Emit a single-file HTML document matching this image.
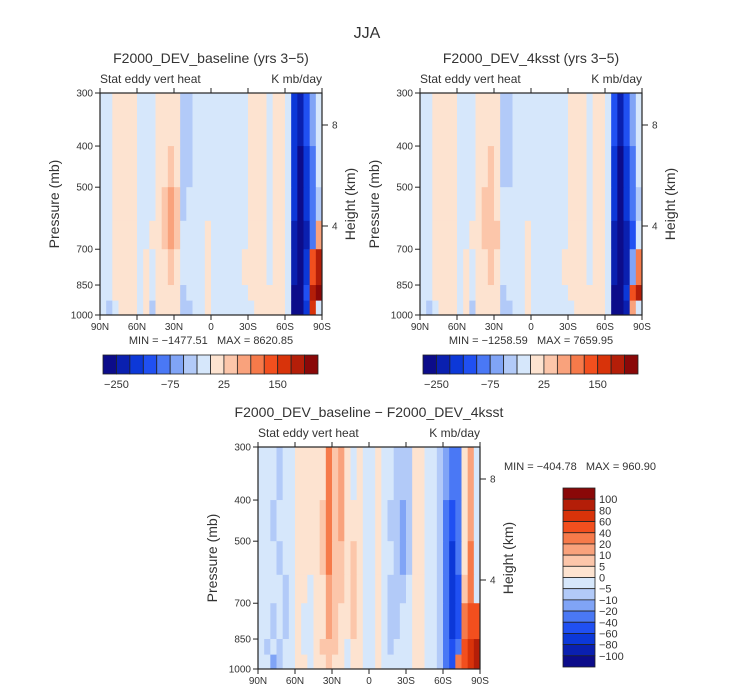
<!DOCTYPE html>
<html><head><meta charset="utf-8"><style>
html,body{margin:0;padding:0;background:#fff;}
svg{display:block;font-family:"Liberation Sans",sans-serif;}
text{white-space:pre;}
</style></head><body>
<svg id="fig" width="733" height="693" viewBox="0 0 733 693" xmlns="http://www.w3.org/2000/svg">
<text x="367" y="38" font-size="16" text-anchor="middle" fill="#333">JJA</text>
</svg>
<script>
// ---- data ----
const lats = [87.5,82.5,77.5,72.5,67.5,62.5,57.5,52.5,47.5,42.5,37.5,32.5,27.5,22.5,17.5,12.5,7.5,2.5,-2.5,-7.5,-12.5,-17.5,-22.5,-27.5,-32.5,-37.5,-42.5,-47.5,-52.5,-57.5,-62.5,-67.5,-72.5,-77.5,-82.5,-87.5];
const presEdges = [300,400,500,600,700,850,925,1000];
const xTickLabels = ["90N","60N","30N","0","30S","60S","90S"];
const xTickVals = [90,60,30,0,-30,-60,-90];
const pTickVals = [300,400,500,700,850,1000];
const hTickVals = [8,4];
const levelsAbs = [-250,-200,-150,-100,-75,-50,-25,0,25,50,75,100,150,200,250];
const levelsDiff = [-100,-80,-60,-40,-20,-10,-5,0,5,10,20,40,60,80,100];
const colors = ["#0c0c8a","#0a20b0","#0c38d8","#2050f2","#4a78f5","#80a4f6","#b2caf8","#d6e7fb","#fde3d0","#fcc6aa","#f9a27c","#f67a4a","#f24f1e","#d8330a","#b41e08","#8a0808"];
const grid1 = [
[-10,-10,10,10,10,5,-10,-10,-10,10,10,20,10,-30,-30,-10,-10,-10,-10,-10,-10,-10,-10,-10,10,10,10,-10,10,10,-10,-160,-220,-120,-60,-20],
[-10,-10,10,10,10,5,-10,-10,-10,10,20,30,20,-30,-30,-10,-10,-10,-10,-10,-10,-10,-10,-10,10,10,10,-10,10,10,-10,-180,-260,-160,-80,-20],
[-10,-10,10,10,10,5,-10,-10,-10,10,40,60,30,-30,-20,-10,-10,-10,-10,-10,-10,-10,-10,-10,10,10,10,-10,10,10,-10,-200,-300,-200,-90,-30],
[-10,-10,10,10,10,5,-10,-10,10,10,30,60,40,-10,-10,-10,-10,10,-10,-10,-10,-10,-10,-10,10,10,10,-10,10,10,-10,-220,-300,-220,-100,60],
[-10,-10,10,10,5,10,-10,10,-10,10,20,30,20,-10,-10,-10,-10,10,-10,-10,-10,-10,-10,10,10,10,10,-10,10,10,-10,-240,-300,-200,100,200],
[-10,-10,10,10,5,10,-10,10,-10,10,20,20,10,-30,-10,-10,-10,10,-10,-10,-10,-10,-10,-10,10,10,10,10,10,10,-10,-260,-300,-150,200,260],
[-10,-30,-10,10,5,10,-10,10,-30,10,10,10,10,-30,-30,-10,-10,10,-10,-10,-10,-10,-10,-10,-10,10,10,10,10,10,-10,-300,-300,-200,150,-20]
];
const grid2 = [
[-10,-10,10,10,10,5,-10,-10,-10,10,10,20,10,-30,-30,-10,-10,-10,-10,-10,-10,-10,-10,-10,10,10,10,-10,10,10,-10,-150,-220,-130,-60,-20],
[-10,-10,10,10,10,5,-10,-10,-10,10,20,30,10,-30,-30,-10,-10,-10,-10,-10,-10,-10,-10,-10,10,10,10,-10,10,10,-10,-180,-260,-170,-80,-20],
[-10,-10,10,10,10,5,-10,-10,-10,10,30,40,20,-20,-20,-10,-10,-10,-10,-10,-10,-10,-10,-10,10,10,10,-10,10,10,-10,-200,-300,-200,-90,-30],
[-10,-10,10,10,10,5,-10,-10,10,10,30,40,30,-10,-10,-10,-10,10,-10,-10,-10,-10,-10,-10,10,10,10,-10,10,10,-10,-220,-300,-220,-120,-20],
[-10,-10,10,10,5,10,-10,10,-10,10,20,30,20,-10,-10,-10,-10,10,-10,-10,-10,-10,-10,10,10,10,10,-10,10,10,-10,-240,-300,-220,-60,80],
[-10,-10,10,10,5,10,-10,10,-10,10,20,20,10,-30,-10,-10,-10,10,-10,-10,-10,-10,-10,-10,10,10,10,10,10,10,-10,-260,-300,-180,100,200],
[-10,-30,-10,10,5,10,-10,10,-30,10,10,10,10,-30,-30,-10,-10,10,-10,-10,-10,-10,-10,-10,-10,10,10,10,10,10,-10,-300,-300,-220,60,-20]
];
const grid3 = [
[-3,-3,-3,-8,-3,-3,3,3,3,3,3,25,8,15,3,-3,3,-3,-3,3,-3,-3,-8,-8,-8,3,3,-3,-3,-8,-15,-30,-25,3,15,-3],
[-3,-3,-8,-3,-3,-3,3,3,3,3,8,25,8,15,3,3,3,-3,-3,3,-3,-8,-8,-15,-8,3,3,-3,-3,-8,-25,-50,-30,3,15,-3],
[-3,-3,-3,-8,-3,-3,3,3,3,3,8,20,8,8,3,8,3,-3,-3,3,-3,-3,-8,-15,-8,3,3,-3,-3,-8,-25,-65,-40,3,20,-3],
[-3,-3,-3,-3,-8,-3,3,3,-3,3,3,15,8,8,3,8,3,-3,-3,3,-3,-8,-8,-8,-3,3,3,-3,-3,-8,-25,-70,-50,8,30,-3],
[-3,-3,-8,-3,-8,-3,3,-3,-3,3,3,15,8,3,3,8,3,-3,-3,3,-3,-8,-8,-3,-3,3,3,-3,-3,-8,-30,-70,-60,20,50,40],
[-3,-8,-3,-8,-3,-3,3,-3,-3,3,8,8,8,3,-3,3,3,-3,-3,3,-3,-8,-3,-3,-3,3,3,-3,-3,-8,-30,-60,-40,40,60,80],
[-3,-3,-15,-8,-3,-3,3,3,-3,3,3,8,3,3,-3,3,3,-3,-3,3,-3,-3,-3,-3,-3,3,3,-3,-3,-8,-30,-60,30,50,70,90]
];
// ---- drawing ----
const NS = "http://www.w3.org/2000/svg";
const svg = document.getElementById("fig");
function mk(tag, attrs, parent){const e=document.createElementNS(NS,tag);for(const k in attrs)e.setAttribute(k,attrs[k]);(parent||svg).appendChild(e);return e;}
function colorFor(v, lev){let i=0;while(i<lev.length && v>=lev[i])i++;return colors[i];}
function txt(s,x,y,size,anchor,parent,rot){const t=mk("text",{x:x,y:y,"font-size":size,"text-anchor":anchor||"middle",fill:"#333"},parent);if(rot)t.setAttribute("transform","rotate(-90 "+x+" "+y+")");t.textContent=s;return t;}

function drawPanel(P){
  const g = mk("g",{});
  
  
  const X = lat => P.x0 + (90-lat)/180*(P.x1-P.x0);
  const Y = p => P.y0 + Math.log(p/300)/Math.log(1000/300)*(P.y1-P.y0);
  const ph = P.y1-P.y0;
  const H = h => P.y0 + ph*(133/222) - (h-4)*ph*(25.25/222);
  const cw = (P.x1-P.x0)/lats.length;
  for(let r=0;r<P.grid.length;r++){
    for(let c=0;c<lats.length;c++){
      const v=P.grid[r][c];
      const xa = X(lats[c]+2.5), ya=Y(presEdges[r]), yb=Y(presEdges[r+1]);
      const cell = mk("rect",{x:xa.toFixed(2),y:ya.toFixed(2),width:(cw+0.4).toFixed(2),height:(yb-ya+0.4).toFixed(2),fill:colorFor(v,P.lev)},g);
      
      
    }
  }
  const frame = mk("rect",{x:P.x0,y:P.y0,width:P.x1-P.x0,height:P.y1-P.y0,fill:"none",stroke:"#222","stroke-width":1.2},g);
  
  
  for(let i=0;i<xTickVals.length;i++){
    const x=X(xTickVals[i]);
    mk("line",{x1:x,x2:x,y1:P.y1,y2:P.y1+5,stroke:"#222"},g);
    mk("line",{x1:x,x2:x,y1:P.y0,y2:P.y0-5,stroke:"#222"},g);
    const t=txt(xTickLabels[i],x,P.y1+15,10,"middle",g);
    
    
  }
  for(const p of pTickVals){
    const y=Y(p);
    mk("line",{x1:P.x0-5,x2:P.x0,y1:y,y2:y,stroke:"#222"},g);
    const t=txt(String(p),P.x0-7,y+3.5,10,"end",g);
    
    
  }
  for(const h of hTickVals){
    const y=H(h);
    mk("line",{x1:P.x1,x2:P.x1+6,y1:y,y2:y,stroke:"#222"},g);
    const t=txt(String(h),P.x1+10,y+3.5,10,"start",g);
    
    
  }
  const cx=(P.x0+P.x1)/2;
  const ti=txt(P.title,cx,P.y0-30,14,"middle",g);
  
  
  const lt=txt("Stat eddy vert heat",P.x0,P.y0-10,12,"start",g);
  
  
  const rt=txt("K mb/day",P.x1,P.y0-10,12,"end",g);
  
  
  const ya=txt("Pressure (mb)",P.x0-41,(P.y0+P.y1)/2,14,"middle",g,true);
  
  
  const ha=txt("Height (km)",P.x1+33,(P.y0+P.y1)/2,14,"middle",g,true);
  
  
  const mm=txt(P.minmax,P.mmx,P.mmy,11,P.mma,g);
  
  
}

function hColorbar(x0,x1,y0,y1,lev,labels){
  const g=mk("g",{});
  
  
  const w=(x1-x0)/colors.length;
  for(let i=0;i<colors.length;i++){
    const b=mk("rect",{x:x0+i*w,y:y0,width:w,height:y1-y0,fill:colors[i],stroke:"#222","stroke-width":0.8},g);
    
    
  }
  for(const L of labels){
    const i=lev.indexOf(L);
    const t=txt(String(L).replace("-","\u2212"),x0+(i+1)*w,y1+14,11,"middle",g);
    
    
  }
}
function vColorbar(x0,x1,y0,y1,lev){
  const g=mk("g",{});
  
  
  const h=(y1-y0)/colors.length;
  for(let i=0;i<colors.length;i++){
    const b=mk("rect",{x:x0,y:y0+i*h,width:x1-x0,height:h,fill:colors[colors.length-1-i],stroke:"#222","stroke-width":0.8},g);
    
    
  }
  for(let k=0;k<lev.length;k++){
    const v=lev[lev.length-1-k];
    const t=txt(String(v).replace("-","\u2212"),x1+4,y0+(k+1)*h+4,11,"start",g);
    
    
  }
}

drawPanel({name:"panel-baseline",grid:grid1,lev:levelsAbs,x0:100,x1:322,y0:93,y1:315,title:"F2000_DEV_baseline (yrs 3\u22125)",minmax:"MIN = \u22121477.51\u00a0\u00a0\u00a0MAX = 8620.85",mmx:211,mmy:344,mma:"middle"});
drawPanel({name:"panel-4ksst",grid:grid2,lev:levelsAbs,x0:420,x1:642,y0:93,y1:315,title:"F2000_DEV_4ksst (yrs 3\u22125)",minmax:"MIN = \u22121258.59\u00a0\u00a0\u00a0MAX = 7659.95",mmx:531,mmy:344,mma:"middle"});
drawPanel({name:"panel-difference",grid:grid3,lev:levelsDiff,x0:258,x1:480,y0:447,y1:669,title:"F2000_DEV_baseline \u2212 F2000_DEV_4ksst",minmax:"MIN = \u2212404.78\u00a0\u00a0\u00a0MAX = 960.90",mmx:504,mmy:470,mma:"start"});
hColorbar(103,318,355,374,levelsAbs,[-250,-75,25,150]);
hColorbar(423,638,355,374,levelsAbs,[-250,-75,25,150]);
vColorbar(563,595,488,667,levelsDiff);
</script>
</body></html>
